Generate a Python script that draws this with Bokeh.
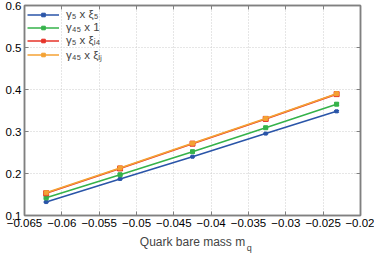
from bokeh.plotting import figure
from bokeh.models import (ColumnDataSource, Whisker, TeeHead, FixedTicker, LinearAxis,
                          Legend, LegendItem, CustomJSTickFormatter, Range1d)
from bokeh.embed import file_html
from bokeh.resources import INLINE

# ---- data ----
mq = [-0.0621, -0.0522, -0.0425, -0.0327, -0.0232]
g5_xi5 = [0.132, 0.187, 0.240, 0.295, 0.348]
g5_xi5_err = [0.001, 0.001, 0.001, 0.001, 0.002]
g45_1 = [0.142, 0.197, 0.252, 0.309, 0.365]
g45_1_err = [0.002, 0.002, 0.002, 0.002, 0.003]
g5_xii4 = [0.153, 0.212, 0.271, 0.330, 0.389]
g5_xii4_err = [0.004, 0.004, 0.004, 0.004, 0.004]
g45_xiij = [0.154, 0.213, 0.272, 0.331, 0.390]
g45_xiij_err = [0.004, 0.004, 0.004, 0.004, 0.004]

labels = ["γ₅ x ξ₅", "γ₄₅ x 1", "γ₅ x ξᵢ₄", "γ₄₅ x ξᵢⱼ"]
colors = ["#2a55a8", "#35b24a", "#e63329", "#f4a234"]
xticks = [-0.065, -0.06, -0.055, -0.05, -0.045, -0.04, -0.035, -0.03, -0.025, -0.02]
yticks = [0.1, 0.2, 0.3, 0.4, 0.5, 0.6]
x_title = "Quark bare mass m"
x_title_sub = "q"

FONT = "Liberation Sans"
GRAY = "#808080"

p = figure(width=374, height=255, output_backend="svg", toolbar_location=None,
           x_range=Range1d(-0.065, -0.02), y_range=Range1d(0.1, 0.6),
           min_border_left=24, min_border_right=14, min_border_top=5, min_border_bottom=10)
p.background_fill_color = "white"
p.border_fill_color = "white"
p.outline_line_color = GRAY
p.outline_line_width = 1.5

fmt = CustomJSTickFormatter(code="""
const v = parseFloat(Math.abs(tick).toFixed(4)).toString();
return (tick < 0 ? '\u2212' : '') + v;
""")

def style_axis(ax, show_labels=True):
    ax.axis_line_color = GRAY
    ax.axis_line_width = 1.5
    ax.major_tick_line_color = GRAY
    ax.major_tick_in = 4
    ax.major_tick_out = 0
    ax.minor_tick_line_color = None
    ax.major_label_text_font = FONT
    ax.major_label_text_font_size = "11.5px"
    ax.major_label_text_color = "#000000"
    ax.major_label_standoff = 3
    ax.major_label_text_line_height = 1.0
    if not show_labels:
        ax.major_label_text_font_size = "0px"
        ax.major_label_text_color = None
        ax.major_label_standoff = 0

p.xaxis.ticker = FixedTicker(ticks=xticks)
p.yaxis.ticker = FixedTicker(ticks=yticks)
p.xaxis.formatter = fmt
style_axis(p.xaxis[0])
style_axis(p.yaxis[0])
p.xaxis.axis_label = x_title
p.xaxis.axis_label_text_font = FONT
p.xaxis.axis_label_text_font_size = "12px"
p.xaxis.axis_label_text_font_style = "normal"
p.xaxis.axis_label_text_line_height = 1.0
p.xaxis.axis_label_standoff = 5

top = LinearAxis(ticker=FixedTicker(ticks=xticks))
right = LinearAxis(ticker=FixedTicker(ticks=yticks))
style_axis(top, False)
style_axis(right, False)
p.add_layout(top, "above")
p.add_layout(right, "right")

# subscript of the x title, drawn as the only label of an invisible extra axis
sub_x = -0.0349
sub_axis = LinearAxis(ticker=FixedTicker(ticks=[sub_x]),
                      major_label_overrides={sub_x: x_title_sub})
sub_axis.axis_line_color = None
sub_axis.major_tick_line_color = None
sub_axis.minor_tick_line_color = None
sub_axis.major_label_text_font = FONT
sub_axis.major_label_text_font_size = "9px"
sub_axis.major_label_standoff = -15
p.add_layout(sub_axis, "below")

p.xgrid.ticker = FixedTicker(ticks=xticks)
p.ygrid.ticker = FixedTicker(ticks=yticks)
p.grid.grid_line_color = "#cccccc"
p.grid.grid_line_dash = "1 2"
p.grid.grid_line_width = 1

series = [(g5_xi5, g5_xi5_err, "square", 3), (g45_1, g45_1_err, "square", 4),
          (g5_xii4, g5_xii4_err, "square", 5), (g45_xiij, g45_xiij_err, "square", 4)]
items = []
for (ys, es, mk, ms), lab, col in zip(series, labels, colors):
    src = ColumnDataSource(dict(x=mq, y=ys,
                                lo=[a - b for a, b in zip(ys, es)],
                                hi=[a + b for a, b in zip(ys, es)]))
    w = Whisker(source=src, base="x", lower="lo", upper="hi", line_color=col, line_width=1,
                upper_head=TeeHead(size=5, line_color=col, line_width=1),
                lower_head=TeeHead(size=5, line_color=col, line_width=1))
    p.add_layout(w)
    r1 = p.line("x", "y", source=src, line_color=col, line_width=1.6)
    r2 = p.scatter("x", "y", source=src, marker=mk, size=ms, fill_color=col, line_color=col)
    items.append(LegendItem(label=lab, renderers=[r1, r2]))

leg = Legend(items=items, location="top_left")
leg.background_fill_alpha = 0
leg.border_line_color = None
leg.label_text_font = FONT
leg.label_text_font_size = "11.5px"
leg.glyph_width = 32
leg.glyph_height = 9
leg.label_height = 9
leg.spacing = 1
leg.padding = 4
leg.margin = 3
leg.label_standoff = 7
leg.label_text_line_height = 1.0
p.add_layout(leg, "center")

open("out.html", "w").write(file_html(p, INLINE))
